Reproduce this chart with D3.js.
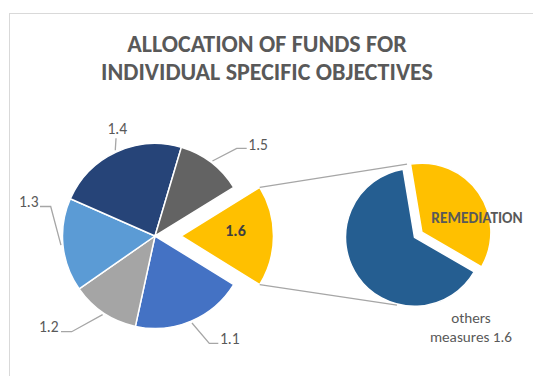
<!DOCTYPE html>
<html>
<head>
<meta charset="utf-8">
<script src="https://cdn.jsdelivr.net/npm/d3@7"></script>
<style>
  html, body { margin: 0; padding: 0; background: #fff; }
  svg { display: block; }
  text { font-family: Carlito, Calibri, Lato, "Open Sans", sans-serif; }
</style>
</head>
<body>
<svg id="chart" width="533" height="376"></svg>
<script>
// Share of funds (%) per specific objective; 1.6 is split out in the second pie
const objectives = ["1.6", "1.1", "1.2", "1.3", "1.4", "1.5"];
const objectiveShares = [17.6, 19.6, 11.9, 16.3, 23.0, 11.6];
const objectiveColors = ["#FFC000", "#4472C4", "#A5A5A5", "#5B9BD5", "#264478", "#636363"];

// Breakdown of measure 1.6 (% of 1.6)
const detailLabels = ["REMEDIATION", "others measures 1.6"];
const detailShares = [36, 64];
const detailColors = ["#FFC000", "#255E91"];

const titleLines = ["ALLOCATION OF FUNDS FOR", "INDIVIDUAL SPECIFIC OBJECTIVES"];

const svg = d3.select("#chart");
const deg = Math.PI / 180;

// chart area frame
svg.append("rect")
  .attr("x", 9.5).attr("y", 13.5)
  .attr("width", 540).attr("height", 380)
  .attr("fill", "#fff").attr("stroke", "#D9D9D9").attr("stroke-width", 1);

// title
svg.append("g").selectAll("text")
  .data(titleLines)
  .join("text")
  .attr("x", 267)
  .attr("y", (d, i) => 52 + i * 28)
  .attr("text-anchor", "middle")
  .attr("font-size", 24)
  .attr("font-weight", 700)
  .attr("fill", "#595959")
  .text(d => d);

// ---- main pie ----
const main = { cx: 155, cy: 236, r: 92.5, explode: 26 };
const mainSpan = objectiveShares[0] / d3.sum(objectiveShares) * 2 * Math.PI;
const mainStart = Math.PI / 2 - mainSpan / 2;
const mainPie = d3.pie().sort(null)
  .startAngle(mainStart).endAngle(mainStart + 2 * Math.PI);
const mainArcs = mainPie(objectiveShares);
const mainArc = d3.arc().innerRadius(0).outerRadius(main.r);

const polar = (cx, cy, r, a) => [cx + r * Math.sin(a), cy - r * Math.cos(a)];

const gMain = svg.append("g").attr("transform", `translate(${main.cx},${main.cy})`);
gMain.selectAll("path")
  .data(mainArcs)
  .join("path")
  .attr("d", mainArc)
  .attr("transform", (d, i) => {
    if (i !== 0) return null;
    const m = (d.startAngle + d.endAngle) / 2;
    const [x, y] = polar(0, 0, main.explode, m);
    return `translate(${x},${y})`;
  })
  .attr("fill", (d, i) => objectiveColors[i])
  .attr("stroke", "#fff")
  .attr("stroke-width", 1.5)
  .attr("stroke-linejoin", "round");

// label "1.6" inside the exploded slice
svg.append("text")
  .attr("x", 235.5).attr("y", 236)
  .attr("text-anchor", "middle")
  .attr("font-size", 16).attr("font-weight", 700)
  .attr("fill", "#404040")
  .text(objectives[0]);

// outside labels with leader lines: elbow point and text anchor
const labelLayout = {
  "1.1": { elbow: [209.3, 343.3], end: [218.3, 343.3], text: [220, 343.5], anchor: "start" },
  "1.2": { elbow: [71.7, 331.7], end: [61, 331.7], text: [58.5, 331.7], anchor: "end" },
  "1.3": { elbow: [50.7, 206.5], end: [40, 206.5], text: [38.5, 206.7], anchor: "end" },
  "1.4": { elbow: [116, 138.3], end: [116, 138.3], text: [117.3, 134.3], anchor: "middle" },
  "1.5": { elbow: [236.7, 148.3], end: [246.7, 148.3], text: [248.3, 150], anchor: "start" }
};

const gLabels = svg.append("g");
mainArcs.forEach((d, i) => {
  const name = objectives[i];
  const lay = labelLayout[name];
  if (!lay) return;
  const m = (d.startAngle + d.endAngle) / 2;
  const start = polar(main.cx, main.cy, main.r + 2, m);
  gLabels.append("path")
    .attr("d", d3.line()([start, lay.elbow, lay.end]))
    .attr("fill", "none")
    .attr("stroke", "#A6A6A6")
    .attr("stroke-width", 1.3);
  gLabels.append("text")
    .attr("x", lay.text[0]).attr("y", lay.text[1])
    .attr("text-anchor", lay.anchor)
    .attr("font-size", 15.5)
    .attr("fill", "#595959")
    .text(name);
});

// ---- detail pie for 1.6 ----
const detail = { cx: 414.5, cy: 237.3, r: 69, explode: 9 };
const detailStart = -9.5 * deg;
const detailPie = d3.pie().sort(null)
  .startAngle(detailStart).endAngle(detailStart + 2 * Math.PI);
const detailArcs = detailPie(detailShares);
const detailArc = d3.arc().innerRadius(0).outerRadius(detail.r);

const explodeOffset = (d, dist) => polar(0, 0, dist, (d.startAngle + d.endAngle) / 2);

const gDetail = svg.append("g").attr("transform", `translate(${detail.cx},${detail.cy})`);
gDetail.selectAll("path")
  .data(detailArcs)
  .join("path")
  .attr("d", detailArc)
  .attr("transform", (d, i) => {
    if (i !== 0) return null;
    const [x, y] = explodeOffset(d, detail.explode);
    return `translate(${x},${y})`;
  })
  .attr("fill", (d, i) => detailColors[i])
  .attr("stroke", "#fff")
  .attr("stroke-width", 1.5)
  .attr("stroke-linejoin", "round");

// connector lines from the 1.6 slice to the detail pie
const s16 = mainArcs[0];
const off16 = explodeOffset(s16, main.explode);
const topFrom = polar(main.cx + off16[0], main.cy + off16[1], main.r, s16.startAngle);
const botFrom = polar(main.cx + off16[0], main.cy + off16[1], main.r, s16.endAngle);
const offRem = explodeOffset(detailArcs[0], detail.explode);
const topTo = polar(detail.cx + offRem[0] - 3.5, detail.cy + offRem[1], detail.r, detailArcs[0].startAngle);
const botTo = polar(detail.cx, detail.cy, detail.r + 1, 194.5 * deg);

svg.append("g").selectAll("line")
  .data([[topFrom, topTo], [botFrom, botTo]])
  .join("line")
  .attr("x1", d => d[0][0]).attr("y1", d => d[0][1])
  .attr("x2", d => d[1][0]).attr("y2", d => d[1][1])
  .attr("stroke", "#A6A6A6")
  .attr("stroke-width", 1.3);

// detail labels
svg.append("text")
  .attr("x", 477).attr("y", 222.5)
  .attr("text-anchor", "middle")
  .attr("font-size", 15.4).attr("font-weight", 700)
  .attr("fill", "#595959")
  .text(detailLabels[0]);

const otherWords = ["others", "measures 1.6"];
svg.append("g").selectAll("text")
  .data(otherWords)
  .join("text")
  .attr("x", 471)
  .attr("y", (d, i) => 322.7 + i * 19)
  .attr("text-anchor", "middle")
  .attr("font-size", 15.2)
  .attr("fill", "#595959")
  .text(d => d);
</script>
</body>
</html>
